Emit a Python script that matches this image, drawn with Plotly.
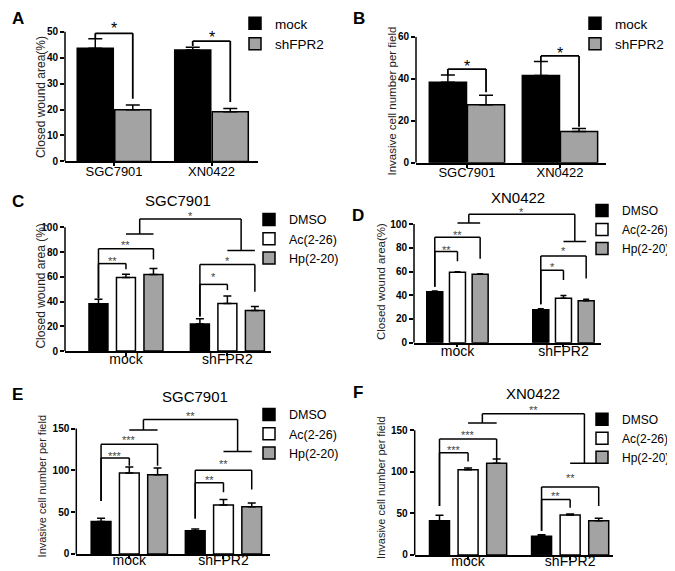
import plotly.graph_objects as go

W, H = 675, 571
FONT = "Arial, Liberation Sans, sans-serif"

# ---------------- data ----------------
ab_cats = ["SGC7901", "XN0422"]
a_mock = [43.6, 43.0]
a_mock_err = [3.7, 1.0]
a_sh = [19.9, 19.1]
a_sh_err = [1.8, 1.3]

b_mock = [38.4, 41.6]
b_mock_err = [3.5, 6.7]
b_sh = [27.7, 14.9]
b_sh_err = [4.5, 1.5]

grp_cats = ["mock", "shFPR2"]
c_dmso = [38.2, 21.9]
c_dmso_err = [3.7, 4.2]
c_ac = [59.5, 38.4]
c_ac_err = [2.6, 6.1]
c_hp = [61.9, 32.8]
c_hp_err = [4.8, 3.2]

d_dmso = [43.0, 27.8]
d_dmso_err = [0.6, 0.8]
d_ac = [59.4, 37.5]
d_ac_err = [0.5, 2.2]
d_hp = [57.6, 35.3]
d_hp_err = [0.5, 1.3]

e_dmso = [38.7, 27.7]
e_dmso_err = [4.0, 2.0]
e_ac = [96.8, 58.5]
e_ac_err = [7.1, 6.5]
e_hp = [94.8, 56.5]
e_hp_err = [7.9, 4.5]

f_dmso = [41.0, 22.3]
f_dmso_err = [6.6, 2.0]
f_ac = [102.4, 48.1]
f_ac_err = [2.0, 1.2]
f_hp = [110.4, 41.0]
f_hp_err = [5.1, 3.0]

a_ticks = [0, 10, 20, 30, 40, 50]
b_ticks = [0, 20, 40, 60]
cd_ticks = [0, 20, 40, 60, 80, 100]
ef_ticks = [0, 50, 100, 150]

BLACK, WHITE, GRAY = "#000000", "#ffffff", "#a3a3a3"

# ---------------- panel definitions ----------------
panels = [
    dict(cats=ab_cats, ticks=a_ticks, letter="A", title=None,
         ytitle="Closed wound area(%)",
         series=[("mock", a_mock, a_mock_err, BLACK), ("shFPR2", a_sh, a_sh_err, GRAY)]),
    dict(cats=ab_cats, ticks=b_ticks, letter="B", title=None,
         ytitle="Invasive cell number per field",
         series=[("mock", b_mock, b_mock_err, BLACK), ("shFPR2", b_sh, b_sh_err, GRAY)]),
    dict(cats=grp_cats, ticks=cd_ticks, letter="C", title="SGC7901",
         ytitle="Closed wound area (%)",
         series=[("DMSO", c_dmso, c_dmso_err, BLACK), ("Ac(2-26)", c_ac, c_ac_err, WHITE),
                 ("Hp(2-20)", c_hp, c_hp_err, GRAY)]),
    dict(cats=grp_cats, ticks=cd_ticks, letter="D", title="XN0422",
         ytitle="Closed wound area(%)",
         series=[("DMSO", d_dmso, d_dmso_err, BLACK), ("Ac(2-26)", d_ac, d_ac_err, WHITE),
                 ("Hp(2-20)", d_hp, d_hp_err, GRAY)]),
    dict(cats=grp_cats, ticks=ef_ticks, letter="E", title="SGC7901",
         ytitle="Invasive cell number per field",
         series=[("DMSO", e_dmso, e_dmso_err, BLACK), ("Ac(2-26)", e_ac, e_ac_err, WHITE),
                 ("Hp(2-20)", e_hp, e_hp_err, GRAY)]),
    dict(cats=grp_cats, ticks=ef_ticks, letter="F", title="XN0422",
         ytitle="Invasive cell number per field",
         series=[("DMSO", f_dmso, f_dmso_err, BLACK), ("Ac(2-26)", f_ac, f_ac_err, WHITE),
                 ("Hp(2-20)", f_hp, f_hp_err, GRAY)]),
]

# layout geometry (pixels) for each panel
geom = [
    dict(l=57, r=250, y0=155, ytop=24, R=55, xr=(-0.503, 1.477), w=0.37, pitch=0.385, cap=7,
         letter=(2, 11), ytl=(33, 90, 12), title=None, leg=(227, 0, 13.5), xfont=13, xstand=-6),
    dict(l=408, r=598, y0=156.5, ytop=29.3, R=66, xr=(-0.548, 1.495), w=0.40, pitch=0.41, cap=7,
         letter=(343, 11), ytl=(384.5, 94, 11.5), title=None, leg=(567, 0, 13.5), xfont=13, xstand=-6),
    dict(l=57, r=263, y0=346.7, ytop=221.7, R=115, xr=(-0.601, 1.43), w=0.187, pitch=0.271, cap=4,
         letter=(2, 196), ytl=(33, 281.5, 12), title=(170, 195), leg=(241, 199, 12.5), xfont=14, xstand=-9),
    dict(l=406, r=593, y0=338.3, ytop=218.3, R=115, xr=(-0.41, 1.354), w=0.151, pitch=0.214, cap=3,
         letter=(342, 210), ytl=(373, 277, 11.5), title=(510, 192), leg=(574, 190, 12), xfont=14, xstand=-8),
    dict(l=68.3, r=262, y0=551.7, ytop=425, R=180, xr=(-0.563, 1.494), w=0.21, pitch=0.30, cap=4,
         letter=(2, 391), ytl=(34, 483.5, 11), title=(187, 393), leg=(241, 396, 12.5), xfont=14, xstand=-10),
    dict(l=406.7, r=605, y0=552.7, ytop=426.7, R=180, xr=(-0.523, 1.42), w=0.196, pitch=0.28, cap=4,
         letter=(343, 389), ytl=(373, 485, 11), title=(525, 390), leg=(574, 401, 12), xfont=14, xstand=-10),
]

# significance brackets: (category, bar i, bar j, horizontal level, left end, right end, label, label level)
brackets = [
    [(0, 0, 1, 49.4, 47.3, 24.2, "*", 52.8), (1, 0, 1, 46.4, 44.5, 22.9, "*", 49.6)],
    [(0, 0, 1, 44.7, 41.9, 33.7, "*", 47.9), (1, 0, 1, 51.0, 48.3, 17.2, "*", 54.2)],
    [(0, 0, 1, 70.7, 42.7, 66.1, "**", 75.2), (0, 0, 2, 82.7, 42.7, 74.1, "**", 88.5),
     (1, 0, 1, 53.9, 28.0, 49.3, "*", 62.7), (1, 0, 2, 69.9, 28.0, 48.0, "*", 75.2)],
    [(0, 0, 1, 76.9, 47.2, 68.6, "**", 80.6), (0, 0, 2, 88.9, 47.2, 70.8, "**", 93.6),
     (1, 0, 1, 61.1, 32.5, 52.8, "*", 66.7), (1, 0, 2, 73.1, 32.5, 54.2, "*", 79.7)],
    [(0, 0, 1, 114.6, 63.2, 105.5, "***", 121.3), (0, 0, 2, 131.2, 63.2, 105.5, "***", 139.5),
     (1, 0, 1, 85.0, 42.3, 73.9, "**", 92.1), (1, 0, 2, 100.0, 42.3, 77.1, "**", 111.5)],
    [(0, 0, 1, 123.0, 58.7, 112.3, "***", 130.2), (0, 0, 2, 139.3, 58.7, 114.3, "***", 148.0),
     (1, 0, 1, 66.7, 29.0, 56.7, "**", 74.6), (1, 0, 2, 81.7, 29.0, 58.7, "**", 96.4)],
]
# between-group comparison: (mock short line level, shFPR2 short line level, top level, label, label level)
tops = [None, None,
        (94.7, 81.3, 106.7, "*", 111.5),
        (100.8, 85.3, 108.3, "*", 112.4),
        (148.2, 122.5, 160.9, "**", 168.8),
        (158.7, 110.3, 169.8, "**", 177.8)]

fig = go.Figure()
layout = dict(width=W, height=H, margin=dict(l=0, r=0, t=0, b=0),
              paper_bgcolor="white", plot_bgcolor="white", barmode="overlay",
              font=dict(family=FONT, color="black"), showlegend=True)
shapes, annotations = [], []


def line(xa, ya, x0, y0, x1, y1, w):
    shapes.append(dict(type="line", xref=xa, yref=ya, x0=x0, y0=y0, x1=x1, y1=y1,
                       line=dict(color="black", width=w)))


for k, (p, g) in enumerate(zip(panels, geom)):
    n = k + 1
    sfx = "" if n == 1 else str(n)
    xa, ya = "x" + sfx, "y" + sfx
    legname = "legend" + sfx
    nser = len(p["series"])
    top_tick = p["ticks"][-1]
    s = (g["y0"] - g["ytop"]) / top_tick
    dom_b = 1 - g["y0"] / H
    dom_t = 1 - (g["y0"] - g["R"] * s) / H

    for i, (name, vals, errs, col) in enumerate(p["series"]):
        off = (i - (nser - 1) / 2) * g["pitch"] - g["w"] / 2
        fig.add_trace(go.Bar(
            x=p["cats"], y=vals, name=name, xaxis=xa, yaxis=ya, legend=legname,
            width=g["w"], offset=off,
            marker=dict(color=col, line=dict(color="black", width=1.5)),
            error_y=dict(type="data", array=errs, arrayminus=[0] * len(errs), symmetric=False,
                         color="black", thickness=1.5, width=g["cap"]),
            hoverinfo="skip"))

    layout["xaxis" + sfx] = dict(
        domain=[g["l"] / W, g["r"] / W], anchor=ya, type="category", range=list(g["xr"]),
        showline=True, linecolor="black", linewidth=1.5, ticks="outside", ticklen=3,
        tickwidth=1.5, tickcolor="black", showgrid=False, zeroline=False,
        tickfont=dict(size=g["xfont"], color="black"), ticklabelstandoff=g["xstand"])
    layout["yaxis" + sfx] = dict(
        domain=[dom_b, dom_t], anchor=xa, range=[0, g["R"]], tickvals=p["ticks"],
        showline=False, ticks="outside", ticklen=4, tickwidth=1.5, tickcolor="black",
        showgrid=False, zeroline=False, tickfont=dict(size=10, color="black", weight="bold"))
    # y axis line only up to last tick
    line(xa + " domain", ya, 0, 0, 0, top_tick, 1.5)

    lx, ly, lfs = g["leg"]
    layout[legname] = dict(x=lx / W, y=1 - ly / H, xanchor="left", yanchor="top",
                           bgcolor="rgba(0,0,0,0)", font=dict(size=lfs, color="black"),
                           tracegroupgap=0)

    def xc(cat, i):
        return cat + (i - (nser - 1) / 2) * g["pitch"]

    big = nser == 2
    lw = 1.8 if big else 1.5
    for (cat, i, j, h, yl, yr, lab, lyv) in brackets[k]:
        x0, x1 = xc(cat, i), xc(cat, j)
        line(xa, ya, x0, yl, x0, h, lw)
        line(xa, ya, x0, h, x1, h, lw)
        line(xa, ya, x1, h, x1, yr, lw)
        annotations.append(dict(xref=xa, yref=ya, x=(x0 + x1) / 2, y=lyv, text=lab,
                                showarrow=False, yshift=-4.5 if big else -3,
                                font=dict(size=16 if big else 11,
                                          color="black" if big else "#444444")))
    if tops[k]:
        y0s, y1s, yt, lab, lyv = tops[k]
        a0, a1 = xc(0, 1), xc(0, 2)
        b0, b1 = xc(1, 1), xc(1, 2)
        line(xa, ya, a0, y0s, a1, y0s, lw)
        line(xa, ya, b0, y1s, b1, y1s, lw)
        m0, m1 = (a0 + a1) / 2, (b0 + b1) / 2
        line(xa, ya, m0, y0s, m0, yt, lw)
        line(xa, ya, m0, yt, m1, yt, lw)
        line(xa, ya, m1, yt, m1, y1s, lw)
        annotations.append(dict(xref=xa, yref=ya, x=(m0 + m1) / 2, y=lyv, text=lab,
                                showarrow=False, yshift=-3,
                                font=dict(size=11, color="#444444")))

    # panel letter
    lx0, ly0 = g["letter"]
    annotations.append(dict(xref="paper", yref="paper", x=lx0 / W, y=1 - ly0 / H,
                            xanchor="left", yanchor="middle", text="<b>%s</b>" % p["letter"],
                            showarrow=False, font=dict(size=17, color="black")))
    # y title
    tx, ty, tfs = g["ytl"]
    annotations.append(dict(xref="paper", yref="paper", x=tx / W, y=1 - ty / H,
                            xanchor="center", yanchor="middle", text=p["ytitle"], textangle=-90,
                            showarrow=False, font=dict(size=tfs, color="#222222")))
    if p["title"]:
        cx, cy = g["title"]
        annotations.append(dict(xref="paper", yref="paper", x=cx / W, y=1 - cy / H,
                                xanchor="center", yanchor="middle", text=p["title"],
                                showarrow=False, font=dict(size=15, color="black")))

layout["shapes"] = shapes
layout["annotations"] = annotations
fig.update_layout(**layout)
fig.write_html("out.html")
